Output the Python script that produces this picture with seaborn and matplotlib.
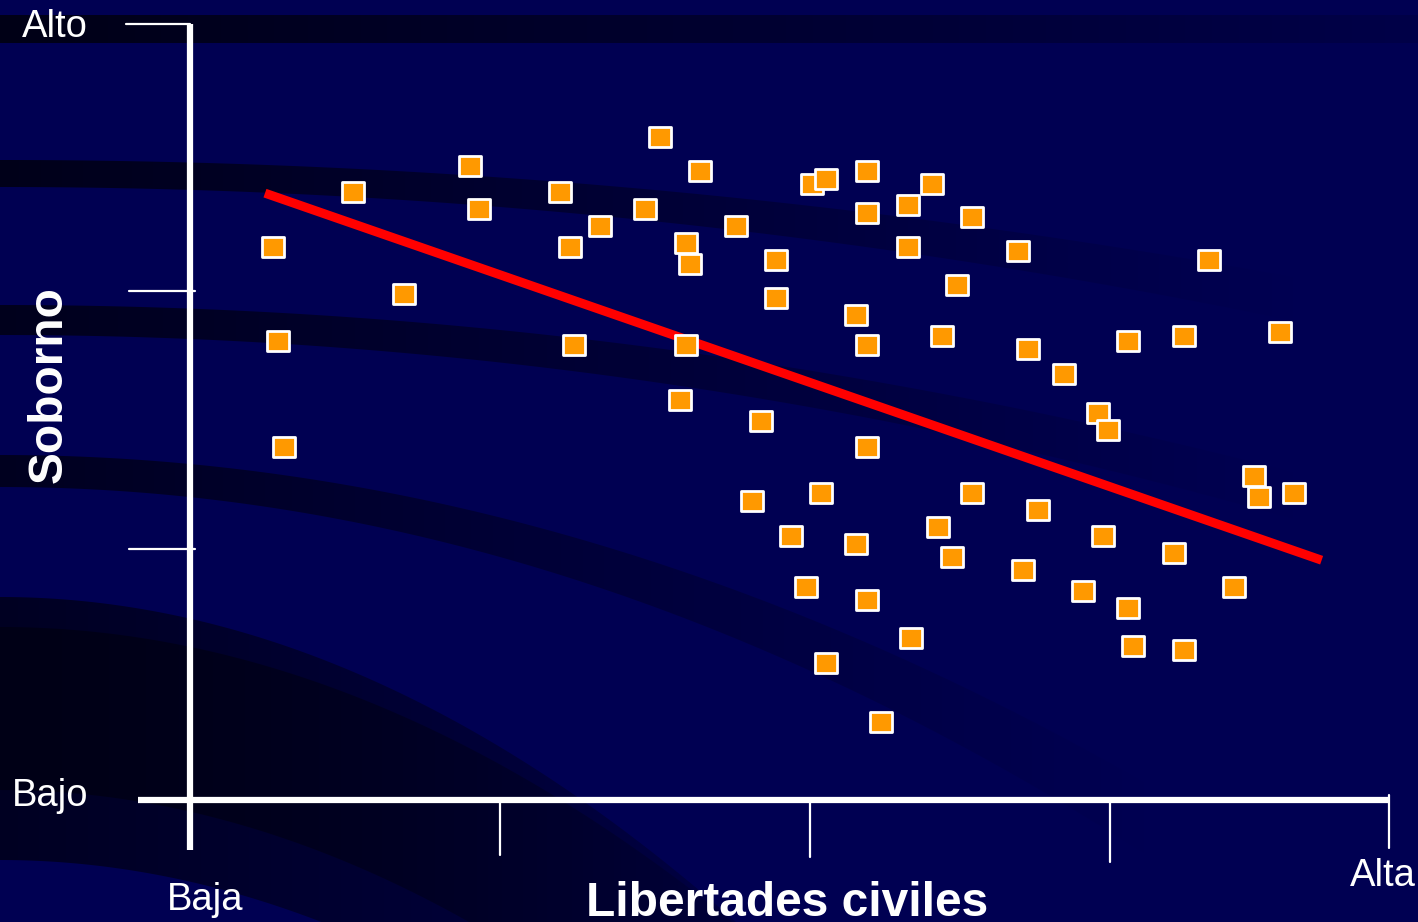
import numpy as np
import pandas as pd
import seaborn as sns
import matplotlib.pyplot as plt
from matplotlib.path import Path

# data (0 = Baja/Bajo, 100 = Alta/Alto)
libertades = [39.2, 42.5, 23.3, 13.6, 30.8, 24.1, 37.9, 34.2, 45.5, 41.3,
              31.7, 6.9, 41.7, 48.8, 48.8, 17.8, 51.8, 53.0, 56.4, 61.8,
              59.8, 56.4, 65.2, 59.8, 69.0, 63.9, 84.9, 55.5, 56.4, 62.7,
              69.8, 78.2, 82.8, 90.8, 72.8, 75.7, 76.5, 7.3, 32.0, 41.3,
              40.8, 47.6, 7.8, 56.4, 88.7, 89.1, 92.0, 46.8, 52.6, 65.2,
              70.7, 62.3, 50.1, 55.5, 76.1, 63.5, 82.0, 69.4, 51.3, 74.4,
              87.0, 56.4, 78.2, 60.1, 78.6, 82.8, 53.0, 57.6]
soborno = [85.4, 81.1, 81.7, 78.4, 78.4, 76.2, 76.2, 74.0, 74.0, 71.8,
           71.3, 71.3, 69.1, 69.6, 64.7, 65.2, 79.4, 80.0, 81.1, 79.4,
           76.7, 75.6, 75.1, 71.3, 70.7, 66.4, 69.6, 62.5, 58.6, 59.8,
           58.1, 59.1, 59.8, 60.3, 54.9, 49.9, 47.7, 59.1, 58.6, 58.6,
           51.5, 48.8, 45.5, 45.5, 41.8, 39.0, 39.6, 38.5, 39.6, 39.6,
           37.4, 35.2, 34.0, 33.0, 34.0, 31.3, 31.8, 29.6, 27.4, 26.9,
           27.4, 25.8, 24.7, 20.9, 19.8, 19.3, 17.7, 10.1]
trend_x = [6.25, 94.3]
trend_y = [78.2, 30.9]

x_ticks = [25.8, 51.7, 76.7]
y_ticks = [65.6, 32.3]

bg = "#000052"

sns.set_style("white")
plt.rcParams['font.family'] = ['Liberation Sans', 'DejaVu Sans']

fig = plt.figure(figsize=(14.18, 9.22), dpi=100, facecolor=bg)

# background bands (pixel space)
ax_bg = fig.add_axes([0, 0, 1, 1], zorder=0)
ax_bg.set_xlim(0, 1418)
ax_bg.set_ylim(922, 0)
ax_bg.set_facecolor(bg)
ax_bg.axis("off")
xs = np.linspace(0, 1418, 300)
bands = [
    (15 + 0 * xs, 43 + 0 * xs, 1.0, 1700),
    (160 + 0.00007 * xs**2, 187 + 0.00008 * xs**2, 0.95, 1300),
    (305 + 0.0001 * xs**2, 335 + 0.00011 * xs**2, 0.9, 1300),
    (455 + 0.00025 * xs**2, 487 + 0.00028 * xs**2, 0.85, 1150),
    (597 + 0.0006 * xs**2, 860 + 0.0006 * xs**2, 0.8, 1100),
    (627 + 0.00055 * xs**2, 790 + 0.0006 * xs**2, 1.0, 900),
]
grad_x = np.linspace(0, 1418, 400)
for top, bot, a0, fade in bands:
    poly = ax_bg.fill_between(xs, top, bot, color="none", lw=0)
    alpha = np.clip(a0 * (1 - grad_x / fade), 0, 1)
    rgba = np.zeros((1, len(grad_x), 4))
    rgba[..., 2] = 0.09
    rgba[..., 3] = alpha
    im = ax_bg.imshow(rgba, extent=(0, 1418, 922, 0), aspect="auto",
                      interpolation="bilinear")
    im.set_clip_path(poly.get_paths()[0], transform=ax_bg.transData)

# main axes
ax = fig.add_axes([0, 0, 1, 1], zorder=1)
ax.set_facecolor("none")
ax.set_xlim(-15.83, 102.33)
ax.set_ylim(-15.72, 103.09)
ax.axis("off")

# axis lines and ticks
ax.plot([0, 0], [100, -6.4], color="white", lw=4.5, solid_capstyle="butt")
ax.plot([-4.3, 100], [0, 0], color="white", lw=4.5, solid_capstyle="butt")
ax.plot([-5.3, 0], [100, 100], color="white", lw=1.6)
for yt in y_ticks:
    ax.plot([-5.1, 0.4], [yt, yt], color="white", lw=1.6)
for xt, yb in zip(x_ticks, [-7.1, -7.4, -8.0]):
    ax.plot([xt, xt], [0, yb], color="white", lw=1.6)
ax.plot([99.9, 99.9], [0.6, -6.2], color="white", lw=1.6)

sns.lineplot(x=trend_x, y=trend_y, ax=ax, color="#FF0000", lw=6.5,
             solid_capstyle="butt", zorder=3)

df = pd.DataFrame({"libertades": libertades, "soborno": soborno})
rect = Path([(-1.15, -1), (1.15, -1), (1.15, 1), (-1.15, 1), (-1.15, -1)],
            [Path.MOVETO, Path.LINETO, Path.LINETO, Path.LINETO, Path.CLOSEPOLY])
sns.scatterplot(data=df, x="libertades", y="soborno", ax=ax, marker=rect,
                s=270, color="#FF9900", edgecolor="white", linewidth=2.0,
                zorder=4)

tkw = dict(color="white", fontsize=27.5)
ax.text(-14.0, 99.6, "Alto", ha="left", va="center", **tkw)
ax.text(-14.8, 0.5, "Bajo", ha="left", va="center", **tkw)
ax.text(1.25, -12.9, "Baja", ha="center", va="center", **tkw)
ax.text(99.4, -9.8, "Alta", ha="center", va="center", **tkw)
ax.text(49.8, -13.4, "Libertades civiles", ha="center", va="center",
        color="white", fontsize=34.5, fontweight="bold")
ax.text(-11.7, 53.5, "Soborno", ha="center", va="center", rotation=90,
        color="white", fontsize=34.5, fontweight="bold")

fig.savefig("out.png", dpi=100, facecolor=bg)
